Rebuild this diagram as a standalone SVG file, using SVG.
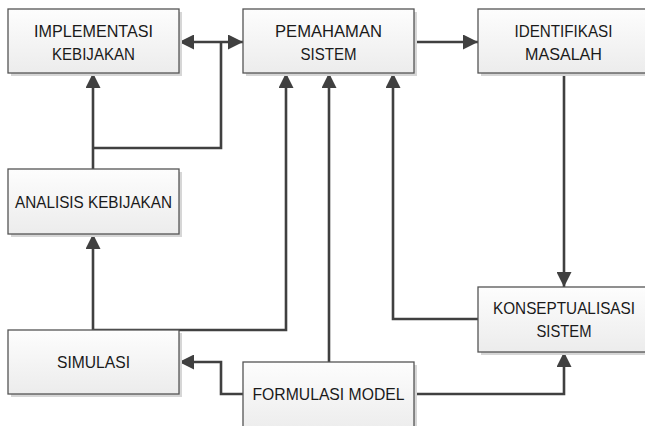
<svg xmlns="http://www.w3.org/2000/svg" width="645" height="426" viewBox="0 0 645 426">
  <style>
    .box { fill: url(#boxFill); stroke: #555555; stroke-width: 1.3; }
    .shadow { fill: #d6d6d6; }
    .label { font-family: "Liberation Sans", Arial, sans-serif; font-size: 16.5px; fill: #1a1a1a; text-anchor: middle; }
    .wire { fill: none; stroke: #404040; stroke-width: 2.6; stroke-linejoin: miter; }
    .arrow { marker-end: url(#head); }
  </style>
  <defs>
    <linearGradient id="boxFill" x1="0" y1="0" x2="0" y2="1">
      <stop offset="0" stop-color="#fdfdfd"/>
      <stop offset="1" stop-color="#ececec"/>
    </linearGradient>
    <marker id="head" markerUnits="userSpaceOnUse" markerWidth="16" markerHeight="15" refX="15" refY="7.5" orient="auto-start-reverse">
      <path d="M0,0 L15,7.5 L0,15 Z" fill="#404040"/>
    </marker>
  </defs>

  <!-- connectors -->
  <g id="connectors">
    <path class="wire" d="M179,42 H243" marker-start="url(#head)" marker-end="url(#head)"/>
    <path class="wire" d="M221,42 V148 H93"/>
    <path class="wire arrow" d="M93,169 V73"/>
    <path class="wire arrow" d="M414,42 H478"/>
    <path class="wire arrow" d="M564,73 V287"/>
    <path class="wire arrow" d="M478,319 H393 V73"/>
    <path class="wire arrow" d="M329,362 V73"/>
    <path class="wire arrow" d="M93,330 H286 V73"/>
    <path class="wire arrow" d="M93,330 V234"/>
    <path class="wire arrow" d="M243,394 H221 V362 H179"/>
    <path class="wire arrow" d="M414,394 H564 V352"/>
  </g>

  <!-- nodes -->
  <g id="implementasi-kebijakan">
    <rect class="shadow" x="11" y="12" width="171" height="64"/>
    <rect class="box" x="8" y="9" width="171" height="64"/>
    <text class="label" x="93.5" y="36.5" textLength="119" lengthAdjust="spacingAndGlyphs">IMPLEMENTASI</text>
    <text class="label" x="93.5" y="60" textLength="83" lengthAdjust="spacingAndGlyphs">KEBIJAKAN</text>
  </g>
  <g id="pemahaman-sistem">
    <rect class="shadow" x="246" y="12" width="171" height="64"/>
    <rect class="box" x="243" y="9" width="171" height="64"/>
    <text class="label" x="328.5" y="36.5" textLength="107" lengthAdjust="spacingAndGlyphs">PEMAHAMAN</text>
    <text class="label" x="328.5" y="60" textLength="56" lengthAdjust="spacingAndGlyphs">SISTEM</text>
  </g>
  <g id="identifikasi-masalah">
    <rect class="shadow" x="481" y="12" width="171" height="64"/>
    <rect class="box" x="478" y="9" width="171" height="64"/>
    <text class="label" x="563.5" y="36.5" textLength="98" lengthAdjust="spacingAndGlyphs">IDENTIFIKASI</text>
    <text class="label" x="563.5" y="60" textLength="77" lengthAdjust="spacingAndGlyphs">MASALAH</text>
  </g>
  <g id="analisis-kebijakan">
    <rect class="shadow" x="11" y="172" width="171" height="65"/>
    <rect class="box" x="8" y="169" width="171" height="65"/>
    <text class="label" x="93.5" y="208" textLength="157" lengthAdjust="spacingAndGlyphs">ANALISIS KEBIJAKAN</text>
  </g>
  <g id="simulasi">
    <rect class="shadow" x="11" y="333" width="171" height="64"/>
    <rect class="box" x="8" y="330" width="171" height="64"/>
    <text class="label" x="93.5" y="368" textLength="73" lengthAdjust="spacingAndGlyphs">SIMULASI</text>
  </g>
  <g id="formulasi-model">
    <rect class="shadow" x="246" y="365" width="171" height="70"/>
    <rect class="box" x="243" y="362" width="171" height="70"/>
    <text class="label" x="328.5" y="400" textLength="152" lengthAdjust="spacingAndGlyphs">FORMULASI MODEL</text>
  </g>
  <g id="konseptualisasi-sistem">
    <rect class="shadow" x="481" y="290" width="171" height="65"/>
    <rect class="box" x="478" y="287" width="171" height="65"/>
    <text class="label" x="564" y="313.5" textLength="142" lengthAdjust="spacingAndGlyphs">KONSEPTUALISASI</text>
    <text class="label" x="564" y="336.5" textLength="55" lengthAdjust="spacingAndGlyphs">SISTEM</text>
  </g>
</svg>
